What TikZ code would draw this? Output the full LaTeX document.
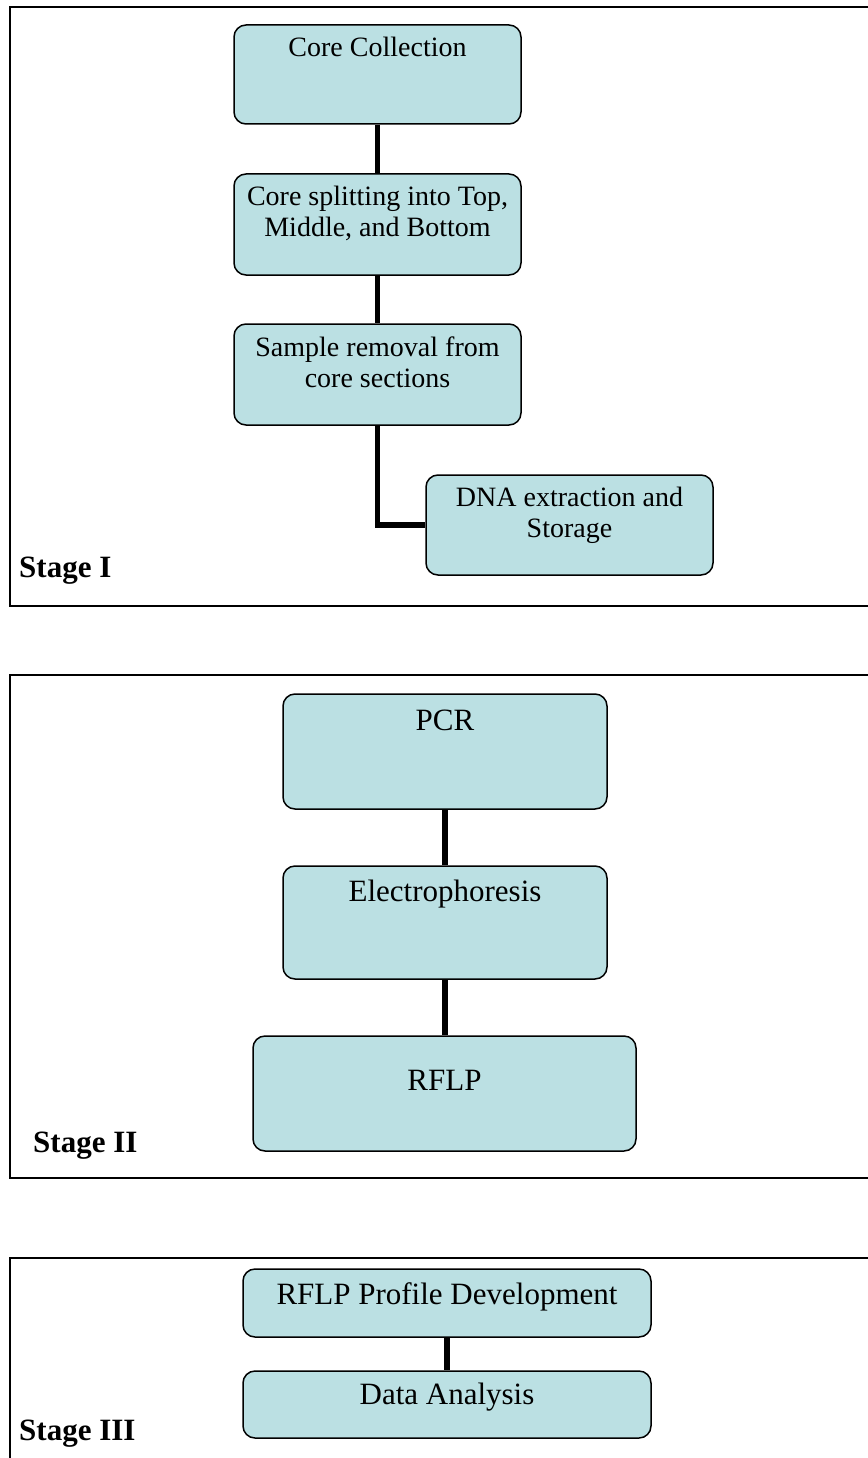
\documentclass[tikz,border=0pt]{standalone}
\usepackage{fontspec}
\setmainfont{Liberation Serif}
\definecolor{boxfill}{RGB}{187,224,227}
\newcommand{\stepsmall}{\fontsize{28}{31}\selectfont}
\newcommand{\steplarge}{\fontsize{31}{34}\selectfont}

\begin{document}
\begin{tikzpicture}[x=1pt,y=-1pt,
  stepbox/.style={rectangle, rounded corners=12pt, draw, line width=1.5pt, fill=boxfill},
  steptext/.style={anchor=north, align=center, inner sep=0pt},
  stageframe/.style={line width=1.6pt},
  link/.style={line width=5.5pt},
  stagelabel/.style={anchor=base west, inner sep=0pt, font=\steplarge\bfseries}]

\useasboundingbox (0,0) rectangle (867,1458);

%---------------------------------------------------------------
% Stage I
\draw [stageframe] (880,7) -- (10,7) -- (10,606) -- (880,606);

\node (collect) at (377.5,74.5) [stepbox, minimum width=287pt, minimum height=99pt, label={[steptext,yshift=-13pt,font=\stepsmall]north:Core Collection}] {};
\node (split) at (377.5,224.5) [stepbox, minimum width=287pt, minimum height=101pt, label={[steptext,yshift=-13pt,font=\stepsmall]north:Core splitting into Top,\\Middle, and Bottom}] {};
\node (removal) at (377.5,374.5) [stepbox, minimum width=287pt, minimum height=101pt, label={[steptext,yshift=-13pt,font=\stepsmall]north:Sample removal from\\core sections}] {};
\node (extract) at (569.5,525) [stepbox, minimum width=287pt, minimum height=100pt, label={[steptext,yshift=-13pt,font=\stepsmall]north:DNA extraction and\\Storage}] {};

\draw [link] (collect) -- (split);
\draw [link] (split) -- (removal);
\draw [link] (removal.south) |- (extract.west);

\node (stage1) at (19,577) [stagelabel] {Stage I};

%---------------------------------------------------------------
% Stage II
\draw [stageframe] (880,675) -- (10,675) -- (10,1178) -- (880,1178);

\node (pcr) at (445,751.5) [stepbox, minimum width=324pt, minimum height=115pt, label={[steptext,yshift=-16.5pt,font=\steplarge]north:PCR}] {};
\node (electro) at (445,922.5) [stepbox, minimum width=324pt, minimum height=113pt, label={[steptext,yshift=-15pt,font=\steplarge]north:Electrophoresis}] {};
\node (rflp) at (444.5,1093.5) [stepbox, minimum width=383pt, minimum height=115pt, label={[steptext,yshift=-34.5pt,font=\steplarge]north:RFLP}] {};

\draw [link] (pcr) -- (electro);
\draw [link] (electro.south) -- (electro.south |- rflp.north);

\node (stage2) at (33,1152) [stagelabel] {Stage II};

%---------------------------------------------------------------
% Stage III
\draw [stageframe] (880,1258) -- (10,1258) -- (10,1470);

\node (profile) at (447,1303) [stepbox, minimum width=408pt, minimum height=68pt, label={[steptext,yshift=-14pt,font=\steplarge]north:RFLP Profile Development}] {};
\node (analysis) at (447,1404.5) [stepbox, minimum width=408pt, minimum height=67pt, label={[steptext,yshift=-13pt,font=\steplarge]north:Data Analysis}] {};

\draw [link] (profile) -- (analysis);

\node (stage3) at (19,1440) [stagelabel] {Stage III};

\end{tikzpicture}
\end{document}
